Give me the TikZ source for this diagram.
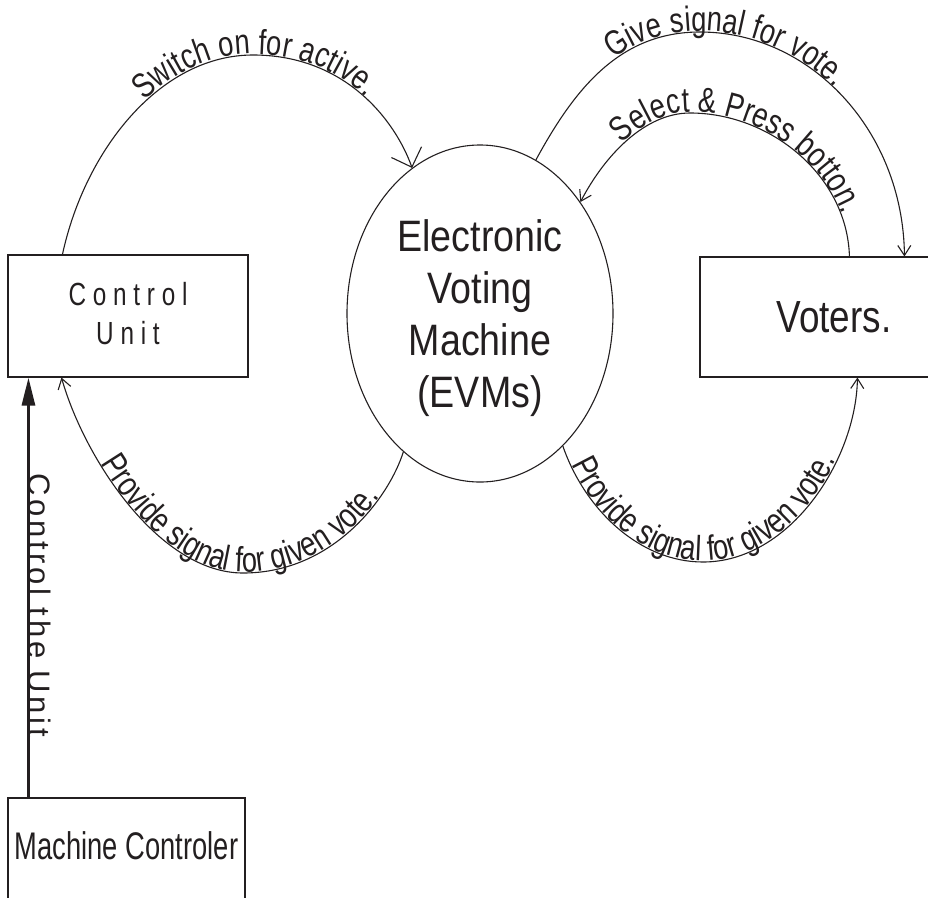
\documentclass[tikz,border=0pt]{standalone}
\usepackage{fontspec}
\setmainfont{Liberation Sans}
\newfontfamily\arcfont[FakeStretch=0.78]{Liberation Sans}
\newfontfamily\vofont[FakeStretch=0.82]{Liberation Sans}
\newfontfamily\evmfont[FakeStretch=0.855]{Liberation Sans}
\newfontfamily\cufont[FakeStretch=0.76]{Liberation Sans}
\newfontfamily\mcfont[FakeStretch=0.71]{Liberation Sans}
\newfontfamily\vtfont[LetterSpace=12]{Liberation Sans}
\usetikzlibrary{arrows.meta,decorations.text,shapes.geometric}
\definecolor{ink}{HTML}{231F20}
\begin{document}
\begin{tikzpicture}[x=1pt,y=-1pt,
  box/.style={draw=ink, line width=1.1pt, rectangle, inner sep=0pt, text=ink, align=center},
  evmshape/.style={draw=ink, line width=1.1pt, ellipse, inner sep=0pt,
    minimum width=266pt, minimum height=337pt, align=center, text=ink},
  flow/.style={draw=ink, line width=1.1pt},
  tipend/.style={-{Straight Barb[length=10pt,width=13pt]}},
  tipstart/.style={{Straight Barb[length=10pt,width=13pt]}-},
  bigtipend/.style={-{Straight Barb[length=16pt,width=32pt]}},
  lbl/.style 2 args={postaction={decorate, decoration={text along path,
    text={|\color{ink}\arcfont\fontsize{35}{35}\selectfont|#1},
    text align={left, left indent=#2}, raise=1pt}}}
]
\useasboundingbox (0,0) rectangle (928,897);

% nodes
\node[box, minimum width=240pt, minimum height=122pt, text depth=5pt,
  font=\cufont\fontsize{32}{39}\selectfont] (cu) at (128,316) {C o n t r o l\\U n i t};
\node[evmshape, font=\evmfont\fontsize{44}{52}\selectfont, text depth=0pt] (evm) at (480,313.5)
  {Electronic\\Voting\\Machine\\(EVMs)};
\node[box, minimum width=268pt, minimum height=120pt,
  font=\vofont\fontsize{45}{45}\selectfont] (vot) at (834,317) {Voters.};
\node[box, minimum width=237pt, minimum height=104pt, text depth=8pt,
  font=\mcfont\fontsize{38.5}{40}\selectfont] (mc) at (126.5,850) {Machine Controler};

% connectors
\draw[flow, bigtipend, lbl={Switch on for active.}{176pt}]
  ([xshift=55pt]cu.north west) .. controls (85,150) and (160,55) .. (253,55)
  .. controls (345,55) and (395,120) .. (evm.115);
\draw[flow, tipend, lbl={Give signal for vote.}{128pt}]
  (evm.70) .. controls (575,88) and (620,32) .. (700,32)
  .. controls (810,32) and (903,130) .. ([xshift=205pt]vot.north west);
\draw[flow, tipstart, lbl={Select {\&} Press botton.}{72pt}]
  (evm.48) .. controls (605,155) and (645,113) .. (690,113)
  .. controls (770,113) and (847,175) .. ([xshift=150pt]vot.north west);
\draw[flow, tipstart, lbl={Provide signal for given vote.}{95pt}]
  ([xshift=54pt]cu.south west) .. controls (85,460) and (160,573) .. (243,573)
  .. controls (335,573) and (390,495) .. (evm.-119);
\draw[flow, tipend, lbl={Provide signal for given vote.}{20pt}]
  (evm.-58) .. controls (585,510) and (640,562) .. (703,562)
  .. controls (790,562) and (856,460) .. ([xshift=158pt]vot.south west);
\draw[ink, line width=3pt, -{Triangle[length=28pt,width=13pt]}]
  ([xshift=21pt]mc.north west) --
  node[pos=0.458, rotate=-90, anchor=base, text=ink,
    font=\vtfont\fontsize{31}{31}\selectfont] {Control the Unit}
  ([xshift=21pt]cu.south west);
\end{tikzpicture}
\end{document}
